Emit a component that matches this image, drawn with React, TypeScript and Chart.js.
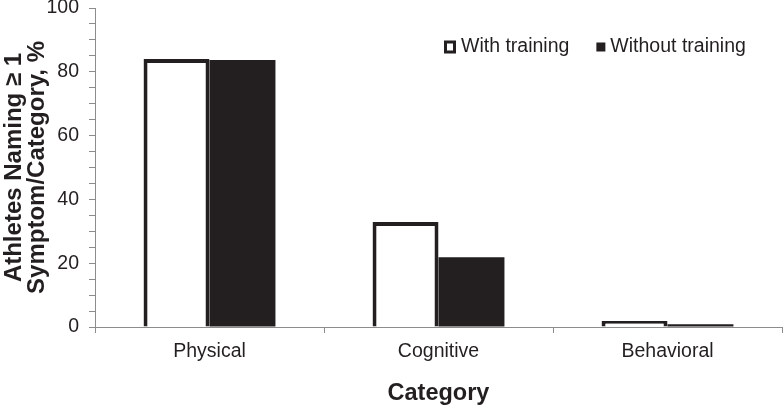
import React, { useEffect, useRef } from "react";
import { Chart, registerables } from "chart.js";

Chart.register(...registerables);

const categories = ["Physical", "Cognitive", "Behavioral"];
const withTraining = [84.0, 32.9, 1.9];
const withoutTraining = [83.7, 21.9, 0.9];
const seriesLabels = ["With training", "Without training"];
const yTitle = ["Athletes Naming \u2265 1", "Symptom/Category, %"];
const xTitle = "Category";
const yMin = 0;
const yMax = 100;
const yMajor = 20;
const yMinor = 5;

const INK = "#231f20";
const AXIS = "#8c8c8c";
const FONT = "'Liberation Sans', Arial, Helvetica, sans-serif";

const legendPlugin = {
  id: "insideLegend",
  afterDraw(chart: any) {
    const ctx = chart.ctx;
    const area = chart.chartArea;
    const ds = chart.data.datasets;
    ctx.save();
    ctx.font = `19.5px ${FONT}`;
    ctx.textBaseline = "middle";
    ctx.textAlign = "left";
    const y = area.top + 39;
    let x = area.left + 349;
    // white (outlined) box
    ctx.fillStyle = INK;
    ctx.fillRect(x, y - 6.5, 12, 13);
    ctx.fillStyle = "#ffffff";
    ctx.fillRect(x + 3, y - 3.5, 6, 7);
    x += 17;
    ctx.fillStyle = INK;
    ctx.fillText(ds[0].label, x, y);
    x += ctx.measureText(ds[0].label).width + 27;
    // black box
    ctx.fillRect(x, y - 4.5, 9, 9);
    x += 14;
    ctx.fillText(ds[1].label, x, y);
    ctx.restore();
  },
};

export default function App() {
  const ref = useRef<HTMLCanvasElement | null>(null);

  useEffect(() => {
    if (!ref.current) return;
    const chart = new Chart(ref.current, {
      type: "bar",
      data: {
        labels: categories,
        datasets: [
          {
            label: seriesLabels[0],
            data: withTraining,
            backgroundColor: "#ffffff",
            borderColor: INK,
            borderWidth: 4,
            borderSkipped: "start",
            categoryPercentage: 0.576,
            barPercentage: 1,
          },
          {
            label: seriesLabels[1],
            data: withoutTraining,
            backgroundColor: INK,
            borderColor: INK,
            borderWidth: 0,
            categoryPercentage: 0.576,
            barPercentage: 1,
          },
        ],
      },
      options: {
        responsive: false,
        devicePixelRatio: 1,
        animation: false,
        layout: { padding: { top: 8, right: 2, left: 0, bottom: 0 } },
        plugins: {
          legend: { display: false },
          tooltip: { enabled: false },
        },
        scales: {
          x: {
            offset: true,
            afterFit(s: any) {
              s.height = 81;
              s.paddingLeft = 0;
              s.paddingRight = 0;
            },
            border: { display: true, color: AXIS, width: 1 },
            grid: {
              offset: true,
              drawOnChartArea: false,
              drawTicks: true,
              tickLength: 6,
              color: AXIS,
            },
            ticks: {
              padding: 7,
              color: INK,
              font: { family: FONT, size: 19.5 },
            },
            title: {
              display: true,
              text: xTitle,
              color: INK,
              font: { family: FONT, size: 23.5, weight: "bold", lineHeight: 1.2 },
              padding: { top: 0, bottom: 0 },
            },
          },
          y: {
            min: yMin,
            max: yMax,
            afterFit(s: any) {
              s.width = 95;
              s.paddingTop = 0;
              s.paddingBottom = 0;
            },
            border: { display: true, color: AXIS, width: 1 },
            grid: {
              drawOnChartArea: false,
              drawTicks: true,
              tickLength: 6,
              color: AXIS,
            },
            ticks: {
              stepSize: yMinor,
              autoSkip: false,
              padding: 10,
              color: INK,
              font: { family: FONT, size: 19.5 },
              callback: (v: any) => (Number(v) % yMajor === 0 ? String(v) : ""),
            },
            title: {
              display: true,
              text: yTitle,
              color: INK,
              font: { family: FONT, size: 24, weight: "bold", lineHeight: 0.96 },
              padding: { top: 3, bottom: 0 },
            },
          },
        },
      },
      plugins: [legendPlugin],
    });
    return () => chart.destroy();
  }, []);

  return (
    <div style={{ position: "fixed", left: 0, top: 0, width: 784, height: 408, background: "#fff" }}>
      <canvas ref={ref} width={784} height={408} style={{ display: "block" }} />
    </div>
  );
}
